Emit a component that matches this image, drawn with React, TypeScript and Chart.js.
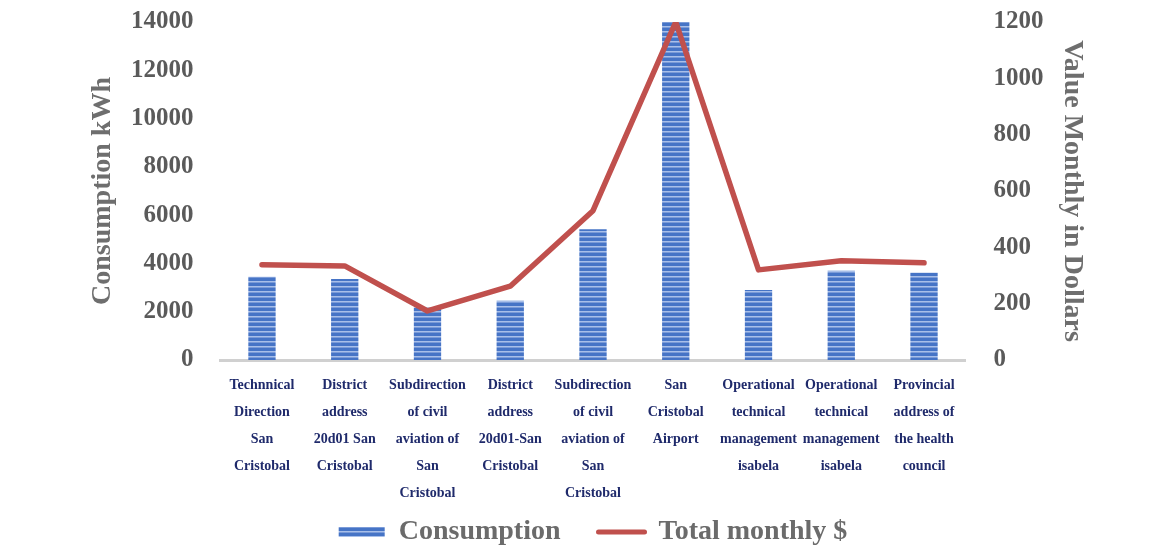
import React, { useEffect, useRef } from 'react';
import { Chart, registerables } from 'chart.js';

Chart.register(...registerables);

const categories: string[][] = [
  ['Technnical', 'Direction', 'San', 'Cristobal'],
  ['District', 'address', '20d01 San', 'Cristobal'],
  ['Subdirection', 'of civil', 'aviation of', 'San', 'Cristobal'],
  ['District', 'address', '20d01-San', 'Cristobal'],
  ['Subdirection', 'of civil', 'aviation of', 'San', 'Cristobal'],
  ['San', 'Cristobal', 'Airport'],
  ['Operational', 'technical', 'management', 'isabela'],
  ['Operational', 'technical', 'management', 'isabela'],
  ['Provincial', 'address of', 'the health', 'council'],
];

const consumptionKWh = [3450, 3360, 2170, 2450, 5420, 14000, 2900, 3700, 3610];
const totalMonthlyUSD = [338, 334, 174, 262, 530, 1200, 320, 352, 345];

const leftAxis = { min: 0, max: 14000, step: 2000 };
const rightAxis = { min: 0, max: 1200, step: 200 };

const seriesNames = ['Consumption', 'Total monthly $'];
const axisTitles = ['Consumption kWh', 'Value Monthly in Dollars'];

const RED = '#C0504D';
const SERIF = '"Liberation Serif", "Times New Roman", serif';

function makeStripePattern(): CanvasPattern | string {
  const c = document.createElement('canvas');
  c.width = 8;
  c.height = 5;
  const g = c.getContext('2d');
  if (!g) return '#4472C4';
  g.fillStyle = '#4674c6';
  g.fillRect(0, 0, 8, 5);
  g.fillStyle = '#a8bfe9';
  g.fillRect(0, 3, 8, 1);
  g.fillStyle = '#7b9bd8';
  g.fillRect(0, 4, 8, 1);
  const p = g.createPattern(c, 'repeat');
  return p || '#4472C4';
}

export default function App() {
  const ref = useRef<HTMLCanvasElement | null>(null);

  useEffect(() => {
    if (!ref.current) return;
    const stripes = makeStripePattern();
    const chart = new Chart(ref.current, {
      type: 'bar',
      data: {
        labels: categories,
        datasets: [
          {
            type: 'line',
            label: seriesNames[1],
            data: totalMonthlyUSD,
            yAxisID: 'y1',
            borderColor: RED,
            backgroundColor: RED,
            borderWidth: 5.5,
            borderCapStyle: 'round',
            borderJoinStyle: 'round',
            pointRadius: 0,
            tension: 0,
            order: 0,
          } as any,
          {
            type: 'bar',
            label: seriesNames[0],
            data: consumptionKWh,
            yAxisID: 'y',
            backgroundColor: stripes as any,
            borderWidth: 0,
            barPercentage: 0.33,
            categoryPercentage: 1,
            order: 1,
          } as any,
        ],
      },
      options: {
        responsive: false,
        animation: false,
        layout: { padding: { left: 78, right: 69, top: 0, bottom: -8 } },
        plugins: {
          tooltip: { enabled: false },
          legend: {
            position: 'bottom',
            fullSize: false,
            reverse: true,
            labels: {
              usePointStyle: true,
              pointStyleWidth: 46,
              boxHeight: 10,
              padding: 10,
              color: '#6b6b6b',
              font: { family: SERIF, size: 28, weight: 'bold' },
              generateLabels: (ch: any) => {
                const base = (Chart.defaults.plugins.legend.labels as any).generateLabels(ch);
                return base.map((l: any) => {
                  const isLine = l.text === seriesNames[1];
                  return {
                    ...l,
                    text: isLine ? l.text : l.text + '\u2003',
                    pointStyle: isLine ? 'line' : 'rect',
                    lineWidth: isLine ? 5 : 0,
                    strokeStyle: isLine ? RED : 'rgba(0,0,0,0)',
                    lineCap: 'round',
                  };
                });
              },
            },
          },
        },
        scales: {
          x: {
            grid: { display: false, drawTicks: false },
            border: { display: true, color: '#d0d0d0', width: 3 },
            ticks: {
              autoSkip: false,
              maxRotation: 0,
              minRotation: 0,
              padding: 12,
              color: '#1f2a6b',
              font: { family: SERIF, size: 14, weight: 'bold', lineHeight: 27 / 14 },
            },
            afterFit: (s: any) => {
              s.height = 148;
            },
          },
          y: {
            position: 'left',
            min: leftAxis.min,
            max: leftAxis.max,
            grid: { display: false, drawTicks: false },
            border: { display: false },
            ticks: {
              stepSize: leftAxis.step,
              padding: 27,
              color: '#5a5a5a',
              font: { family: SERIF, size: 25, weight: 'bold' },
              callback: (v: any) => String(v),
            },
            title: {
              display: true,
              text: axisTitles[0],
              color: '#6e6e6e',
              padding: 0,
              font: { family: SERIF, size: 28, weight: 'bold' },
            },
            afterFit: (s: any) => {
              s.width = 134.6;
              s.paddingTop = 14;
              s.paddingBottom = 0;
            },
          },
          y1: {
            position: 'right',
            min: rightAxis.min,
            max: rightAxis.max,
            grid: { display: false, drawTicks: false },
            border: { display: false },
            ticks: {
              stepSize: rightAxis.step,
              padding: 28,
              color: '#5a5a5a',
              font: { family: SERIF, size: 25, weight: 'bold' },
              callback: (v: any) => String(v),
            },
            title: {
              display: true,
              text: axisTitles[1],
              color: '#6e6e6e',
              padding: 0,
              font: { family: SERIF, size: 28, weight: 'bold' },
            },
            afterFit: (s: any) => {
              s.width = 123.6;
              s.paddingTop = 14;
              s.paddingBottom = 0;
            },
          },
        },
      } as any,
    });
    return () => chart.destroy();
  }, []);

  return (
    <div style={{ width: 1150, height: 540 }}>
      <canvas ref={ref} width={1150} height={540} style={{ display: 'block' }} />
    </div>
  );
}
